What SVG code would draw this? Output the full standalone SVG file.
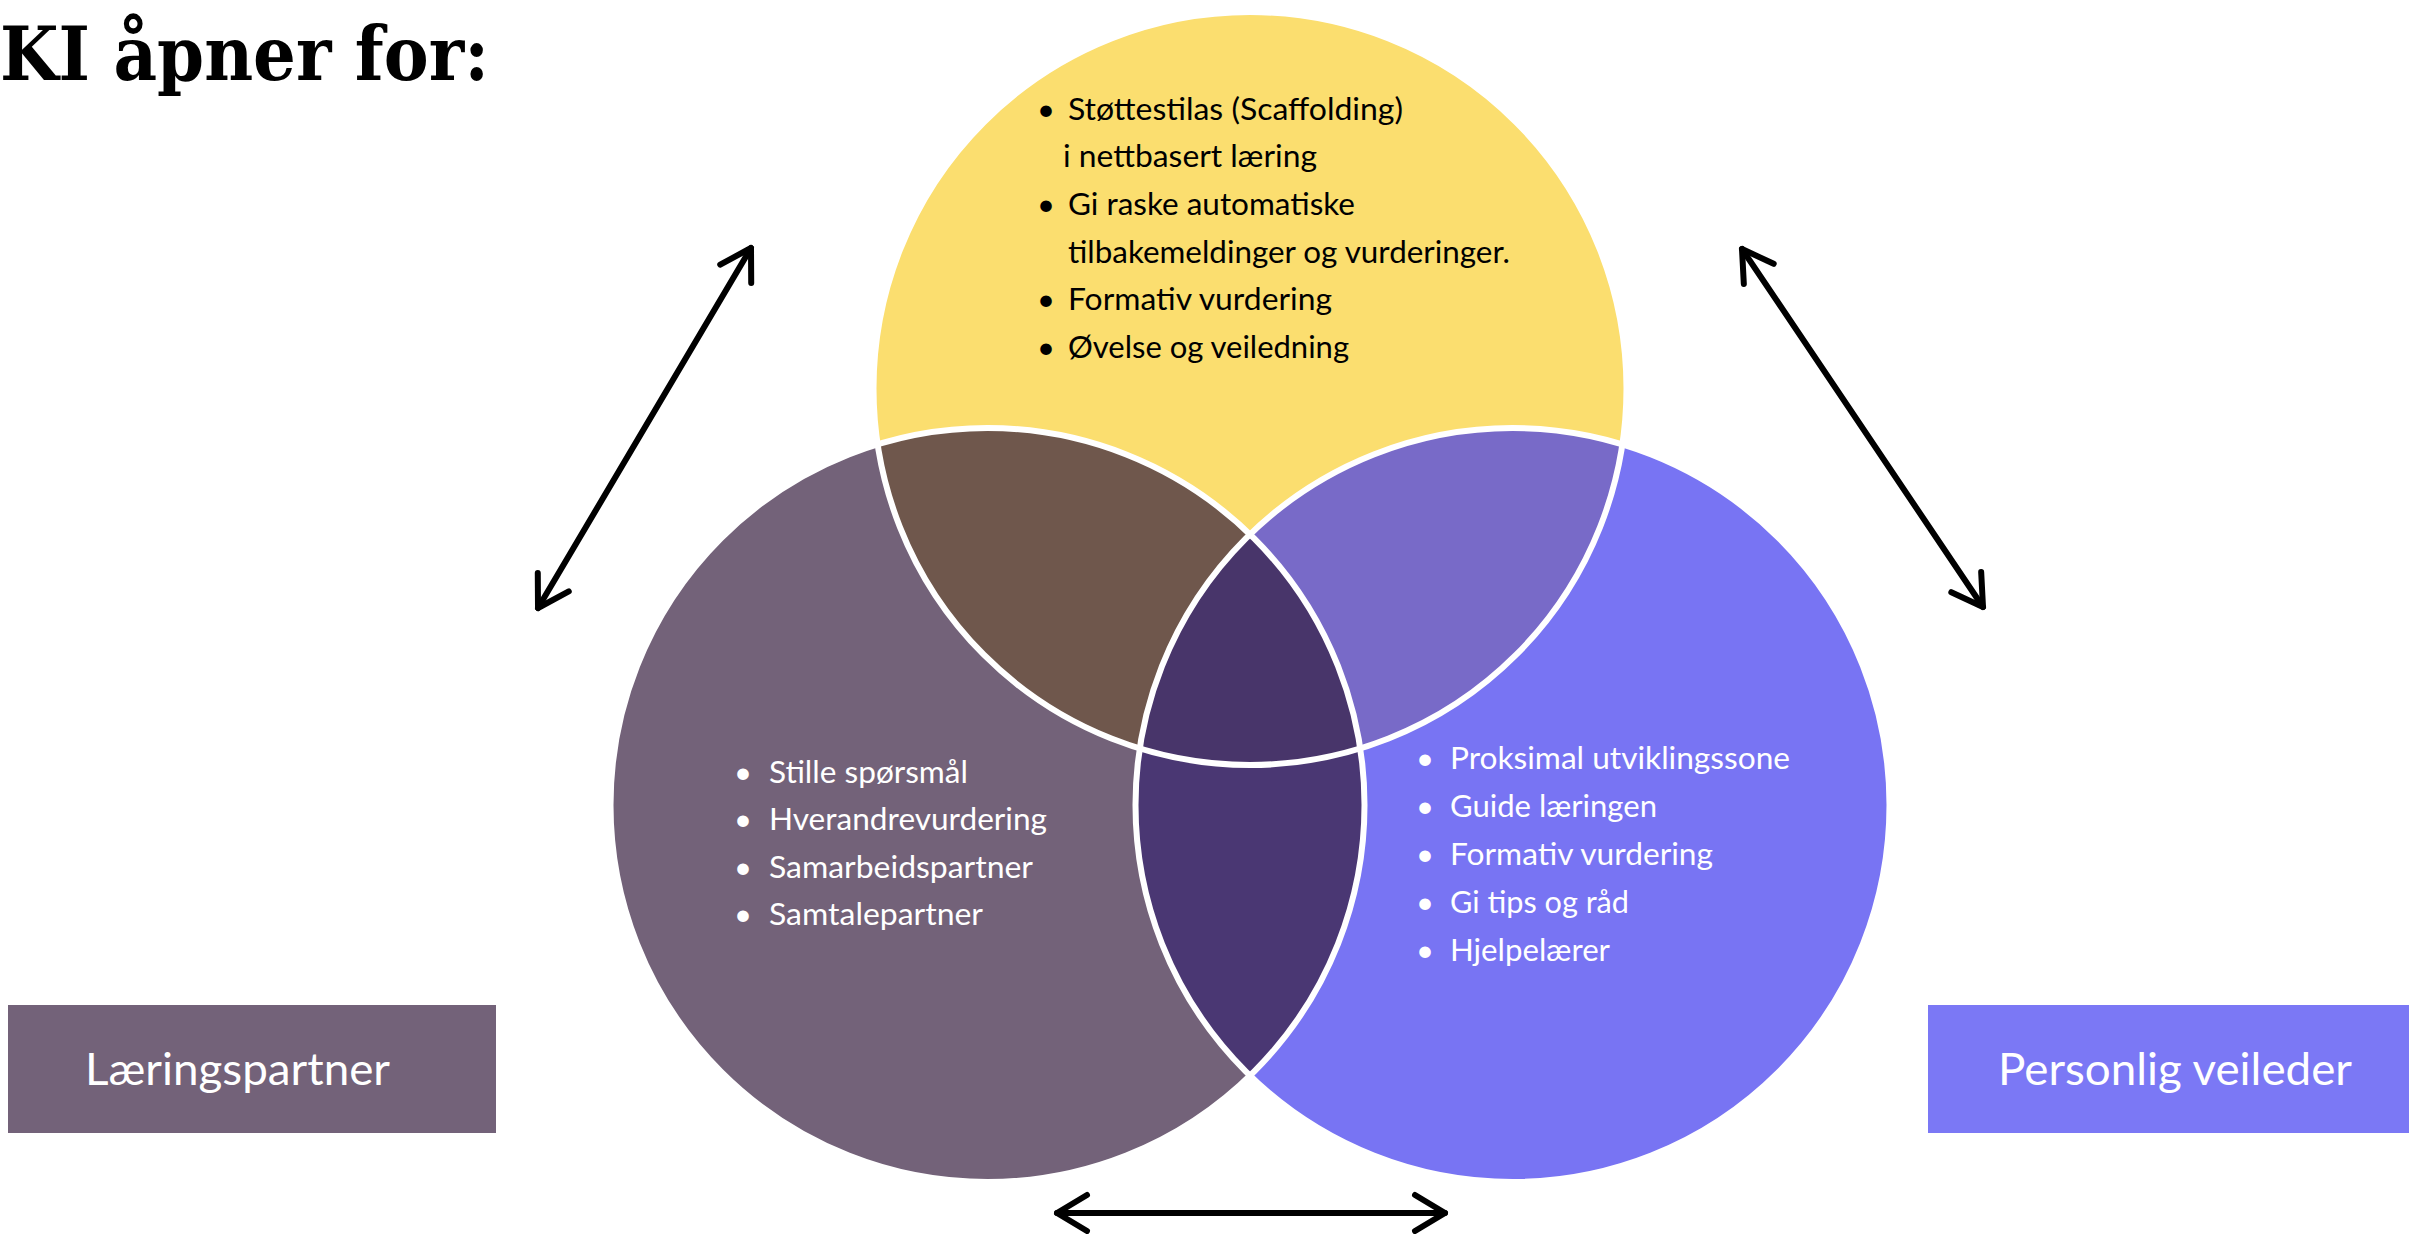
<svg xmlns="http://www.w3.org/2000/svg" width="2409" height="1234" viewBox="0 0 2409 1234">
<style>
.title{font-family:"DejaVu Serif","Liberation Serif",serif;font-weight:bold;font-size:74px;fill:#000}
.t{font-family:Lato,"Open Sans","Liberation Sans",sans-serif;font-size:31px}
.dark{fill:#000}
.light{fill:#fff}
.lbl{font-family:Lato,"Open Sans","Liberation Sans",sans-serif;font-size:45px;fill:#fff}
.outline{fill:none;stroke:#fff;stroke-width:6}
.conn{stroke:#000;stroke-width:6;stroke-linecap:round;fill:none}
</style>
<defs>
<clipPath id="clipL"><circle cx="987.5" cy="805" r="377"/></clipPath>
<clipPath id="clipR"><circle cx="1512.5" cy="805" r="377"/></clipPath>
<clipPath id="clipY"><circle cx="1250" cy="388.5" r="376.5"/></clipPath>
<marker id="ah" viewBox="-45 -30 60 60" markerWidth="60" markerHeight="60" refX="0" refY="0" orient="auto-start-reverse" markerUnits="userSpaceOnUse" overflow="visible">
<path d="M-30,-18 L0,0 L-30,18" fill="none" stroke="#000" stroke-width="6" stroke-linecap="round" stroke-linejoin="round"/>
</marker>
</defs>
<rect width="2409" height="1234" fill="#fff"/>

<g id="title">
<text class="title" x="0" y="80" textLength="489" lengthAdjust="spacingAndGlyphs">KI åpner for:</text>
</g>

<g id="circle-left">
<circle cx="987.5" cy="805" r="377" fill="#736279"/>
<g class="t light">
<text x="743" y="783" text-anchor="middle">•</text><text x="769" y="783" textLength="199" lengthAdjust="spacingAndGlyphs">Stille spørsmål</text>
<text x="743" y="830" text-anchor="middle">•</text><text x="769" y="830" textLength="278" lengthAdjust="spacingAndGlyphs">Hverandrevurdering</text>
<text x="743" y="878" text-anchor="middle">•</text><text x="769" y="878" textLength="264" lengthAdjust="spacingAndGlyphs">Samarbeidspartner</text>
<text x="743" y="925" text-anchor="middle">•</text><text x="769" y="925" textLength="214" lengthAdjust="spacingAndGlyphs">Samtalepartner</text>
</g>
</g>

<g id="circle-right">
<circle cx="1512.5" cy="805" r="377" fill="#7874F3"/>
<g class="t light">
<text x="1425" y="769" text-anchor="middle">•</text><text x="1450" y="769" textLength="340" lengthAdjust="spacingAndGlyphs">Proksimal utviklingssone</text>
<text x="1425" y="817" text-anchor="middle">•</text><text x="1450" y="817" textLength="207" lengthAdjust="spacingAndGlyphs">Guide læringen</text>
<text x="1425" y="865" text-anchor="middle">•</text><text x="1450" y="865" textLength="263" lengthAdjust="spacingAndGlyphs">Formativ vurdering</text>
<text x="1425" y="913" text-anchor="middle">•</text><text x="1450" y="913" textLength="179" lengthAdjust="spacingAndGlyphs">Gi tips og råd</text>
<text x="1425" y="961" text-anchor="middle">•</text><text x="1450" y="961" textLength="160" lengthAdjust="spacingAndGlyphs">Hjelpelærer</text>
</g>
</g>

<g id="circle-top">
<circle cx="1250" cy="388.5" r="376.5" fill="#FBDE6F"/>
<g class="t dark">
<text x="1046" y="120" text-anchor="middle">•</text><text x="1068" y="120" textLength="335" lengthAdjust="spacingAndGlyphs">Støttestilas (Scaffolding)</text>
<text x="1063" y="167" textLength="254" lengthAdjust="spacingAndGlyphs">i nettbasert læring</text>
<text x="1046" y="215" text-anchor="middle">•</text><text x="1068" y="215" textLength="287" lengthAdjust="spacingAndGlyphs">Gi raske automatiske</text>
<text x="1068" y="263" textLength="442" lengthAdjust="spacingAndGlyphs">tilbakemeldinger og vurderinger.</text>
<text x="1046" y="310" text-anchor="middle">•</text><text x="1068" y="310" textLength="264" lengthAdjust="spacingAndGlyphs">Formativ vurdering</text>
<text x="1046" y="358" text-anchor="middle">•</text><text x="1068" y="358" textLength="281" lengthAdjust="spacingAndGlyphs">Øvelse og veiledning</text>
</g>
</g>

<g id="overlaps">
<circle cx="1250" cy="388.5" r="376.5" fill="#6F574C" clip-path="url(#clipL)"/>
<circle cx="1250" cy="388.5" r="376.5" fill="#786AC8" clip-path="url(#clipR)"/>
<circle cx="987.5" cy="805" r="377" fill="#4A3773" clip-path="url(#clipR)"/>
<g clip-path="url(#clipR)">
<circle cx="1250" cy="388.5" r="376.5" fill="#48356A" clip-path="url(#clipL)"/>
</g>
</g>

<g id="outlines">
<circle class="outline" cx="987.5" cy="805" r="377"/>
<circle class="outline" cx="1512.5" cy="805" r="377"/>
<circle class="outline" cx="1250" cy="388.5" r="376.5"/>
</g>

<g id="label-left">
<rect x="8" y="1005" width="488" height="128" fill="#736279"/>
<text class="lbl" x="237.5" y="1085" text-anchor="middle" textLength="305" lengthAdjust="spacingAndGlyphs">Læringspartner</text>
</g>

<g id="label-right">
<rect x="1928" y="1005" width="481" height="128" fill="#7B78F5"/>
<text class="lbl" x="2175" y="1085" text-anchor="middle" textLength="354" lengthAdjust="spacingAndGlyphs">Personlig veileder</text>
</g>

<g id="connectors">
<line class="conn" x1="538" y1="608" x2="751" y2="248" marker-start="url(#ah)" marker-end="url(#ah)"/>
<line class="conn" x1="1742" y1="249" x2="1983" y2="607" marker-start="url(#ah)" marker-end="url(#ah)"/>
<line class="conn" x1="1057" y1="1213" x2="1445" y2="1213" marker-start="url(#ah)" marker-end="url(#ah)"/>
</g>
</svg>
